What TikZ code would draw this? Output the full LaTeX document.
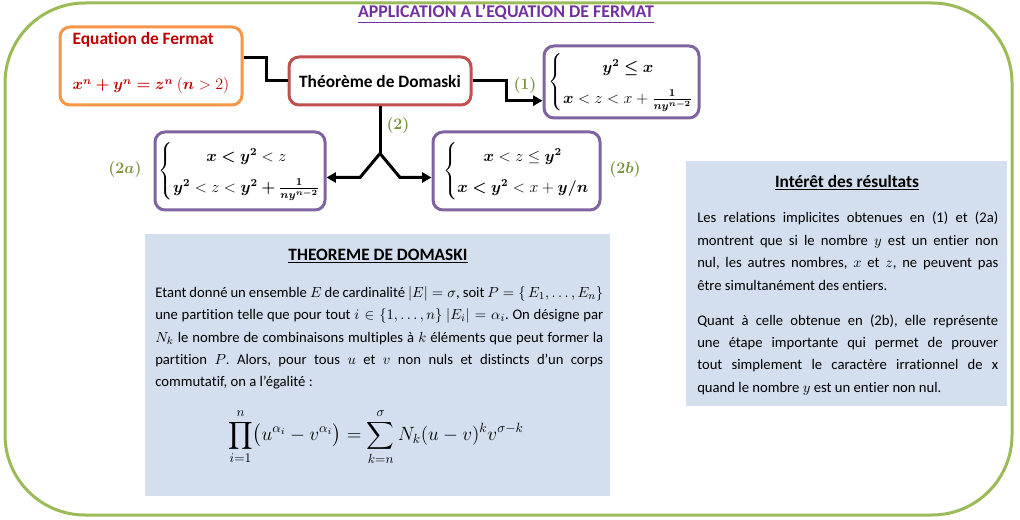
\documentclass[tikz,border=0pt]{standalone}
\usepackage{amsmath,bm}
\usepackage{fontspec}
\setmainfont{Carlito}[Ligatures = NoCommon]
\usetikzlibrary{arrows.meta, positioning}

\definecolor{framegreen}{HTML}{9BBB59}
\definecolor{titlepurple}{HTML}{7030A0}
\definecolor{fermatorange}{HTML}{F79646}
\definecolor{fermatred}{HTML}{C00000}
\definecolor{domaskired}{HTML}{C0504D}
\definecolor{solpurple}{HTML}{8064A2}
\definecolor{taggreen}{HTML}{77933C}
\definecolor{panelblue}{HTML}{D3DFEE}
\renewcommand{\arraystretch}{1.5}
\frenchspacing

\begin{document}
\begin{tikzpicture}[
        x = 0.75pt, y = -0.75pt,
        >= {Triangle[length = 7pt, width = 7.5pt]},
        box/.style = {draw, rounded corners = 7.5pt, line width = 2.25pt, fill = white, inner sep = 0pt},
        solution/.style = {box, draw = solpurple, font = \fontsize{11.5}{15.5}\selectfont},
        link/.style = {line width = 2.25pt},
        tag/.style = {text = taggreen, font = \fontsize{12}{14}\selectfont},
        panel/.style = {fill = panelblue, inner sep = 0pt},
        heading/.style = {font = \bfseries\fontsize{13}{15}\selectfont},
        body/.style = {font = \fontsize{11}{16.8}\selectfont, align = justify, inner sep = 0pt, anchor = north west}
    ]
    \useasboundingbox (0,0) rectangle (1020,520);
    \draw[framegreen, line width = 2.25pt, rounded corners = 60pt] (5,3) rectangle (1012,515);

    \node[text = titlepurple, font = \bfseries\fontsize{13.4}{15}\selectfont] (title) at (506,14) {\underline{APPLICATION A L’EQUATION DE FERMAT}};

    % equation and theorem
    \node[box, draw = fermatorange, minimum width = 136.5pt, minimum height = 58.5pt] (fermat) at (151,66) {};
    \node[heading, text = fermatred, anchor = west] (fermattitle) at (68,40) {Equation de Fermat};
    \node[text = fermatred, font = \fontsize{11.5}{14}\selectfont] (fermateq) at (151,86) {$\bm{x^n+y^n=z^n}\ (\bm{n}>2)$};
    \node[box, draw = domaskired, minimum width = 136.5pt, minimum height = 36pt, heading] (domaski) at (380,81) {Théorème de Domaski};

    % solutions
    \node[solution, minimum width = 116.25pt, minimum height = 54pt] (sol1) at (621.5,82)
        {$\left\{\begin{array}{@{}c@{}} \bm{y^2\le x}\\ \bm{x}<z<x+\bm{\frac{1}{ny^{n-2}}} \end{array}\right.$};
    \node[solution, minimum width = 127.5pt, minimum height = 58.5pt] (sol2a) at (240,171)
        {$\left\{\begin{array}{@{}c@{}} \bm{x<y^2}<z\\ \bm{y^2}<z<\bm{y^2+\frac{1}{ny^{n-2}}} \end{array}\right.$};
    \node[solution, minimum width = 125.25pt, minimum height = 58.5pt] (sol2b) at (516.5,171)
        {$\left\{\begin{array}{@{}c@{}} \bm{x}<z\le\bm{y^2}\\ \bm{x<y^2}<x+\bm{y/n} \end{array}\right.$};

    \node[tag] (tag1) at (525,86) {$\bm{(1)}$};
    \node[tag] (tag2) at (398,126) {$\bm{(2)}$};
    \node[tag] (tag2a) at (125,170) {$\bm{(2a)}$};
    \node[tag] (tag2b) at (625,170) {$\bm{(2b)}$};

    % connectors
    \draw[link] ([yshift = 6pt]fermat.east) -- ++(23,0) |- (domaski.west);
    \draw[link, ->] (domaski.east) -- ++(34,0) |- ([yshift = -14pt]sol1.west);
    \draw[link] (domaski.south) -- ++(0,47) coordinate (fork);
    \draw[link, ->] (fork) -- ++(-20,24) coordinate (forkl) -- (forkl -| sol2a.east);
    \draw[link, ->] (fork) -- ++(20,24) coordinate (forkr) -- (forkr -| sol2b.west);

    % theorem panel
    \node[panel, minimum width = 348.75pt, minimum height = 196.5pt] (thm) at (377.5,365) {};
    \node[heading] (thmtitle) at (378,256) {\underline{THEOREME DE DOMASKI}};
    \node[body, text width = 336pt] (thmtext) at (155,286)
        {Etant donné un ensemble $E$ de cardinalité $|E|=\sigma$, soit $P=\{\,E_1,\ldots,E_n\}$\linebreak
         une partition telle que pour tout $i\in\{1,\ldots,n\}$ $|E_i|=\alpha_i$. On désigne par\linebreak
         $N_k$ le nombre de combinaisons multiples à $k$ éléments que peut former la\linebreak
         partition $P$. Alors, pour tous $u$ et $v$ non nuls et distincts d’un corps\linebreak
         commutatif, on a l’égalité :};
    \node[font = \fontsize{14}{16}\selectfont] (thmeq) at (376,437)
        {$\displaystyle\prod_{i=1}^{n}\bigl(u^{\alpha_i}-v^{\alpha_i}\bigr)=\sum_{k=n}^{\sigma}N_k(u-v)^k v^{\sigma-k}$};

    % results panel
    \node[panel, minimum width = 240.75pt, minimum height = 183.75pt] (res) at (846.5,283.5) {};
    \node[heading] (restitle) at (847,183) {\underline{Intérêt des résultats}};
    \node[body, text width = 225.75pt] (restext) at (697,212)
        {Les relations implicites obtenues en (1) et (2a)\linebreak
         montrent que si le nombre $y$ est un entier non\linebreak
         nul, les autres nombres, $x$ et $z$, ne peuvent pas\linebreak
         être simultanément des entiers.\par\vspace{9.4pt}
         Quant à celle obtenue en (2b), elle représente\linebreak
         une étape importante qui permet de prouver\linebreak
         tout simplement le caractère irrationnel de x\linebreak
         quand le nombre $y$ est un entier non nul.};
\end{tikzpicture}
\end{document}
